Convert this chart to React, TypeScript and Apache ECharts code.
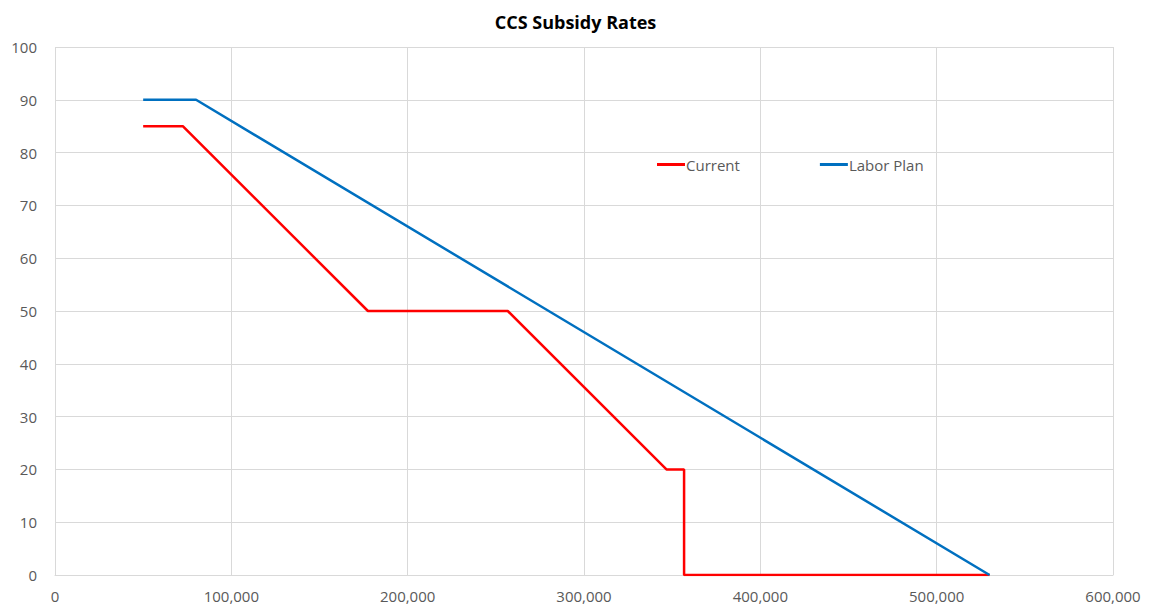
import React, { useEffect, useRef } from "react";
import * as echarts from "echarts";

const currentIncome = [50000, 72466, 177466, 256756, 346756, 356756, 356756, 530000];
const currentRate = [85, 85, 50, 50, 20, 20, 0, 0];
const laborIncome = [50000, 80000, 530000];
const laborRate = [90, 90, 0];
const seriesNames = ["Current", "Labor Plan"];
const title = "CCS Subsidy Rates";

const pairs = (xs: number[], ys: number[]) => xs.map((x, i) => [x, ys[i]]);

export default function App() {
  const ref = useRef<HTMLDivElement>(null);
  useEffect(() => {
    const chart = echarts.init(ref.current!, null, { renderer: "svg" });
    const font = "'Open Sans', 'Noto Sans', sans-serif";
    chart.setOption({
      animation: false,
      backgroundColor: "#fff",
      title: {
        text: title,
        left: "center",
        top: 8,
        textStyle: { fontSize: 18, fontWeight: "bold", color: "#000", fontFamily: font },
      },
      legend: {
        left: 652,
        top: 152,
        icon: "rect",
        itemWidth: 28,
        itemHeight: 3,
        itemGap: 80,
        textStyle: { fontSize: 15, color: "#595959", fontFamily: font, padding: [0, 0, 0, -4] },
        data: seriesNames,
      },
      grid: { left: 55, right: 38, top: 47, bottom: 34, containLabel: false },
      xAxis: {
        type: "value",
        min: 0,
        max: 600000,
        interval: 100000,
        axisLine: { show: true, lineStyle: { color: "#d9d9d9" } },
        axisTick: { show: false },
        splitLine: { show: true, lineStyle: { color: "#d9d9d9" } },
        axisLabel: {
          color: "#595959",
          fontSize: 15,
          fontFamily: font,
          margin: 13,
          formatter: (v: number) => v.toLocaleString("en-US"),
        },
      },
      yAxis: {
        type: "value",
        min: 0,
        max: 100,
        interval: 10,
        axisLine: { show: false },
        axisTick: { show: false },
        splitLine: { show: true, lineStyle: { color: "#d9d9d9" } },
        axisLabel: { color: "#595959", fontSize: 15, fontFamily: font, margin: 18 },
      },
      series: [
        {
          name: seriesNames[0],
          type: "line",
          data: pairs(currentIncome, currentRate),
          showSymbol: false,
          symbol: "none",
          lineStyle: { color: "#ff0000", width: 2.5 },
          itemStyle: { color: "#ff0000" },
          z: 2,
        },
        {
          name: seriesNames[1],
          type: "line",
          data: pairs(laborIncome, laborRate),
          showSymbol: false,
          symbol: "none",
          lineStyle: { color: "#0070c0", width: 2.5 },
          itemStyle: { color: "#0070c0" },
          z: 3,
        },
      ],
    });
    return () => chart.dispose();
  }, []);
  return <div ref={ref} style={{ width: 1151, height: 609, position: "absolute", left: 0, top: 0 }} />;
}
